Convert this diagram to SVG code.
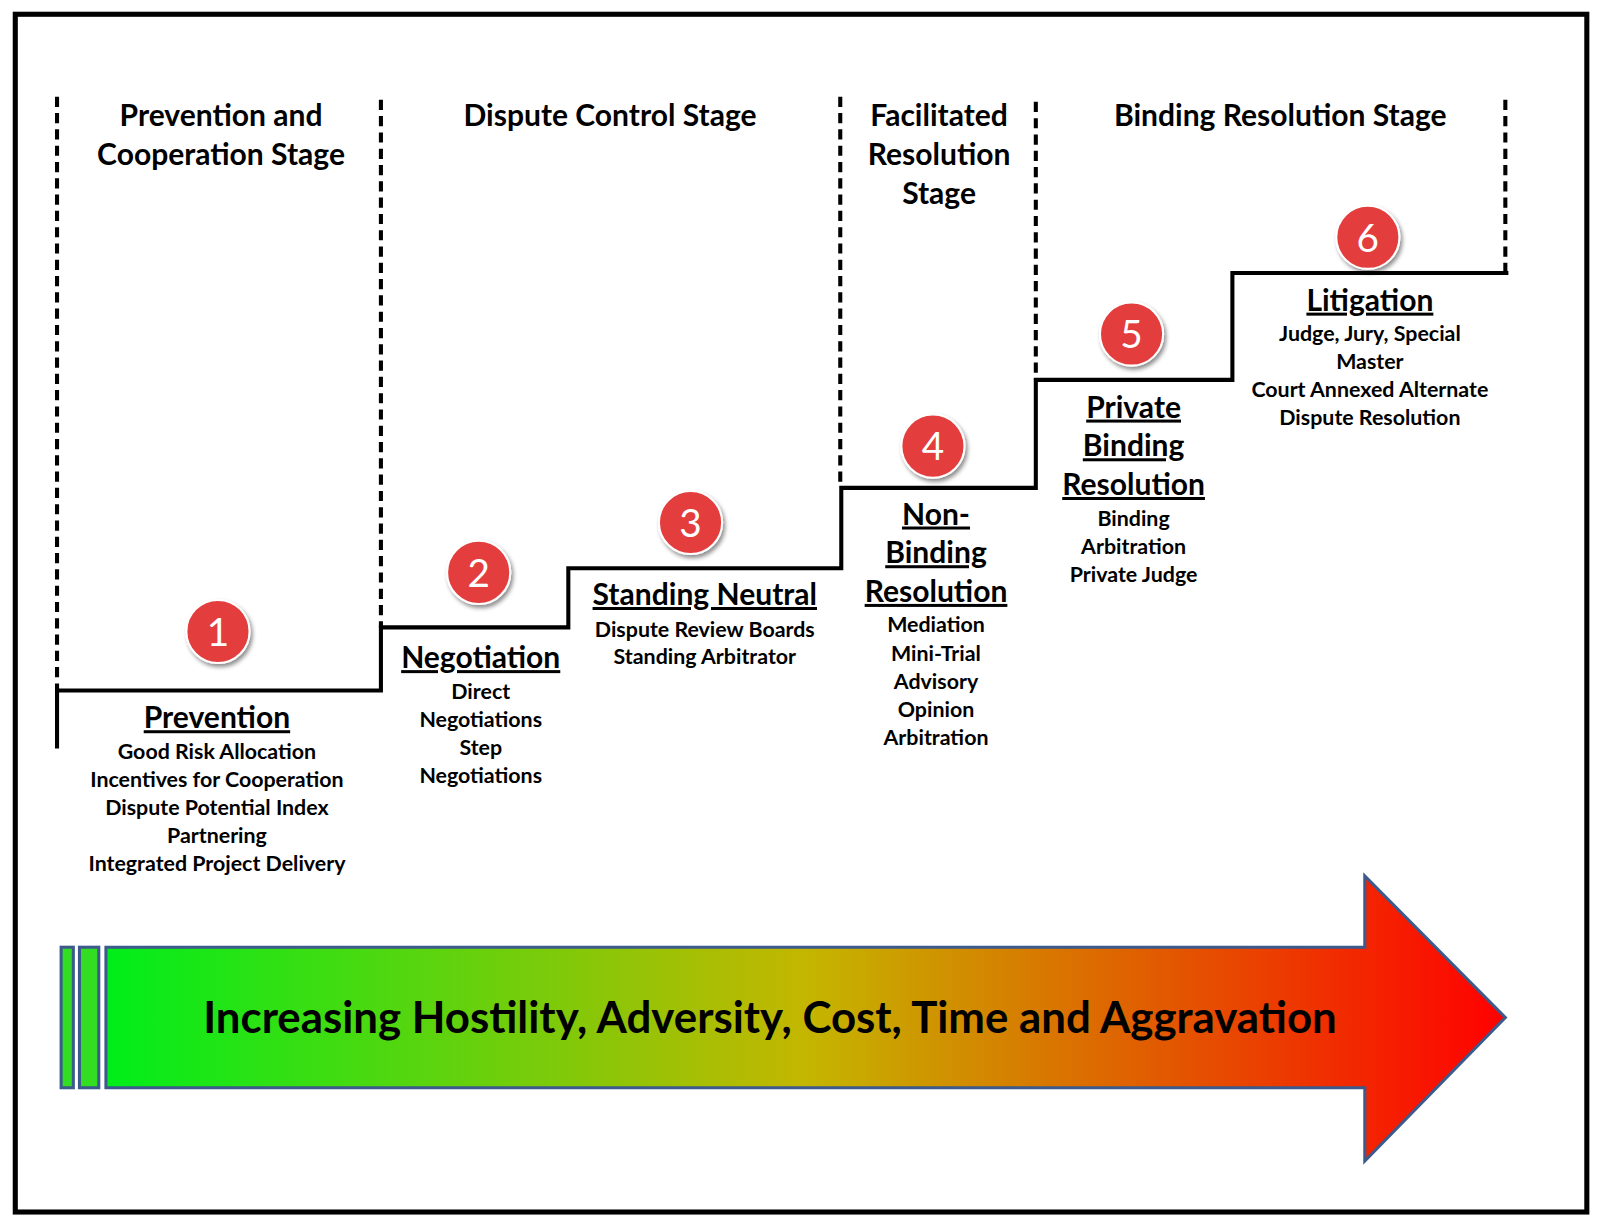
<svg xmlns="http://www.w3.org/2000/svg" width="1597" height="1219" viewBox="0 0 1597 1219">
<style>
text{font-family:Lato,"Open Sans","Liberation Sans",sans-serif;font-weight:bold;fill:#000;text-anchor:middle}
.st{font-size:29.5px}
.hd{font-size:29.5px;text-decoration:underline}
.it{font-size:21px}
.dash{stroke:#000;stroke-width:4;stroke-dasharray:10,6;fill:none}
.num{font-size:38px;fill:#fff;font-weight:normal}
.c{fill:#e43d3d;stroke:#fff;stroke-width:2}
</style>
<defs>
<linearGradient id="g" x1="104" y1="0" x2="1478" y2="0" gradientUnits="userSpaceOnUse">
<stop offset="0" stop-color="#00ee1a"/><stop offset="0.5" stop-color="#c4b600"/><stop offset="1" stop-color="#ff0000"/>
</linearGradient>
<filter id="sh" x="-30%" y="-30%" width="160%" height="160%"><feDropShadow dx="2" dy="3" stdDeviation="2" flood-opacity="0.45"/></filter>
</defs>
<rect x="0" y="0" width="1597" height="1219" fill="#fff"/>
<g transform="scale(1.0185)">
<rect x="15" y="14" width="1543" height="1176" fill="none" stroke="#000" stroke-width="5"/>
<g id="connectors">
<line class="dash" x1="56" y1="95" x2="56" y2="678"/>
<line class="dash" x1="374" y1="98" x2="374" y2="616"/>
<line class="dash" x1="825" y1="95" x2="825" y2="479"/>
<line class="dash" x1="1017" y1="100" x2="1017" y2="373"/>
<line class="dash" x1="1478" y1="98" x2="1478" y2="268"/>
<polyline points="56,735 56,678 374,678 374,616 558,616 558,558 826,558 826,479 1017,479 1017,373 1210,373 1210,268 1481,268" fill="none" stroke="#000" stroke-width="4"/>
</g>
<g id="stages">
<text class="st" x="217" y="124">Prevention and</text>
<text class="st" x="217" y="162">Cooperation Stage</text>
<text class="st" x="599" y="124">Dispute Control Stage</text>
<text class="st" x="922" y="124">Facilitated</text>
<text class="st" x="922" y="162">Resolution</text>
<text class="st" x="922" y="200">Stage</text>
<text class="st" x="1257" y="124">Binding Resolution Stage</text>
</g>
<g id="n1"><circle class="c" cx="214" cy="620" r="31" filter="url(#sh)"/><text class="num" x="214" y="634">1</text>
<text class="hd" x="213" y="715">Prevention</text>
<text class="it" x="213" y="745">Good Risk Allocation</text><text class="it" x="213" y="773">Incentives for Cooperation</text><text class="it" x="213" y="800">Dispute Potential Index</text><text class="it" x="213" y="828">Partnering</text><text class="it" x="213" y="855">Integrated Project Delivery</text></g>
<g id="n2"><circle class="c" cx="470" cy="562" r="31" filter="url(#sh)"/><text class="num" x="470" y="576">2</text>
<text class="hd" x="472" y="656">Negotiation</text>
<text class="it" x="472" y="686">Direct</text><text class="it" x="472" y="714">Negotiations</text><text class="it" x="472" y="741">Step</text><text class="it" x="472" y="769">Negotiations</text></g>
<g id="n3"><circle class="c" cx="678" cy="513" r="31" filter="url(#sh)"/><text class="num" x="678" y="527">3</text>
<text class="hd" x="692" y="594">Standing Neutral</text>
<text class="it" x="692" y="625">Dispute Review Boards</text><text class="it" x="692" y="652">Standing Arbitrator</text></g>
<g id="n4"><circle class="c" cx="916" cy="438" r="31" filter="url(#sh)"/><text class="num" x="916" y="452">4</text>
<text class="hd" x="919" y="515">Non-</text><text class="hd" x="919" y="553">Binding</text><text class="hd" x="919" y="591">Resolution</text>
<text class="it" x="919" y="621">Mediation</text><text class="it" x="919" y="649">Mini-Trial</text><text class="it" x="919" y="676">Advisory</text><text class="it" x="919" y="704">Opinion</text><text class="it" x="919" y="731">Arbitration</text></g>
<g id="n5"><circle class="c" cx="1111" cy="328" r="31" filter="url(#sh)"/><text class="num" x="1111" y="342">5</text>
<text class="hd" x="1113" y="410">Private</text><text class="hd" x="1113" y="448">Binding</text><text class="hd" x="1113" y="486">Resolution</text>
<text class="it" x="1113" y="516">Binding</text><text class="it" x="1113" y="544">Arbitration</text><text class="it" x="1113" y="571">Private Judge</text></g>
<g id="n6"><circle class="c" cx="1343" cy="233" r="31" filter="url(#sh)"/><text class="num" x="1343" y="247">6</text>
<text class="hd" x="1345" y="305">Litigation</text>
<text class="it" x="1345" y="335">Judge, Jury, Special</text><text class="it" x="1345" y="362">Master</text><text class="it" x="1345" y="390">Court Annexed Alternate</text><text class="it" x="1345" y="417">Dispute Resolution</text></g>
<g id="arrow">
<rect x="60" y="930" width="12" height="138" fill="#33dd22" stroke="#3c5a8c" stroke-width="3"/>
<rect x="78" y="930" width="19" height="138" fill="#33dd22" stroke="#3c5a8c" stroke-width="3"/>
<polygon points="104,930 1340,930 1340,860 1478,999 1340,1140 1340,1068 104,1068" fill="url(#g)" stroke="#3c5a8c" stroke-width="3"/>
<text x="756" y="1014" style="font-size:43px">Increasing Hostility, Adversity, Cost, Time and Aggravation</text>
</g>
</g>
</svg>
